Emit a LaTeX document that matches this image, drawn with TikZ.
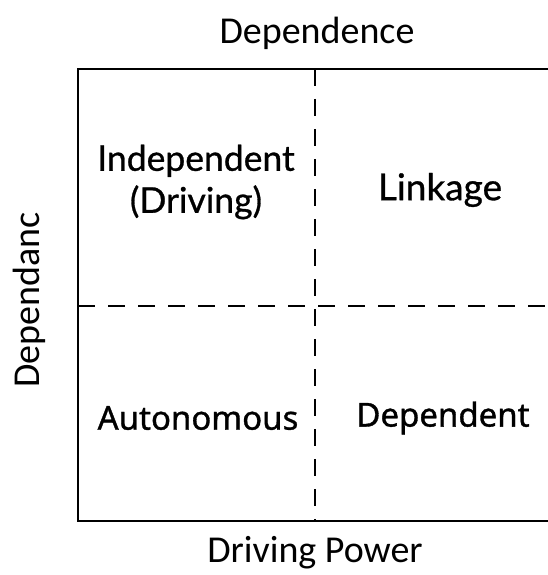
\documentclass[tikz,border=0pt]{standalone}
\usepackage{fontspec}
\newfontfamily\axisfont{Carlito}
\newfontfamily\upperfont[FakeBold=0.8]{Lato}
\newfontfamily\lowerfont[FakeBold=1]{Noto Sans}
\usetikzlibrary{%
	positioning
}

\begin{document}
\begin{tikzpicture}[
		x=1pt,y=-1pt,
		axis/.style={font=\axisfont\fontsize{38}{40}\selectfont,inner sep=0pt},
		upper/.style={font=\upperfont\fontsize{35.5}{42}\selectfont,align=center,inner sep=0pt},
		lower/.style={font=\lowerfont\fontsize{33}{40}\selectfont,inner sep=0pt},
		frame/.style={line width=1.7pt},
		split/.style={line width=1.5pt,dash pattern=on 17pt off 13pt}
	]
	\useasboundingbox (0,0) rectangle (548,575);
	
		\coordinate (tl) at (78,69);
		\coordinate (bl) at (78,521);
		\coordinate (tr) at (548,69);
		\coordinate (br) at (548,521);
		\coordinate (vt) at (315,69);
		\coordinate (vb) at (315,521);
		\coordinate (hl) at (78,306);
		\coordinate (hr) at (548,306);
		
		\draw[frame] (tr) -- (tl) -- (bl) -- (br);
		\draw[split] (vt) -- (vb);
		\draw[split] (hl) -- (hr);
		
		\node(top) [axis] at (317,33) {Dependence};
		\node(bottom) [axis] at (315,553) {Driving Power};
		\node(left) [axis,rotate=90] at (29,300) {Dependanc};
		
		\node(indep) [upper] at (196,182) {Independent\\(Driving)};
		\node(link) [upper,font=\upperfont\fontsize{37}{42}\selectfont] at (440,190) {Linkage};
		\node(auto) [lower] at (198,418) {Autonomous};
		\node(dep) [lower] at (443,418) {Dependent};
		
	\end{tikzpicture}
\end{document}
